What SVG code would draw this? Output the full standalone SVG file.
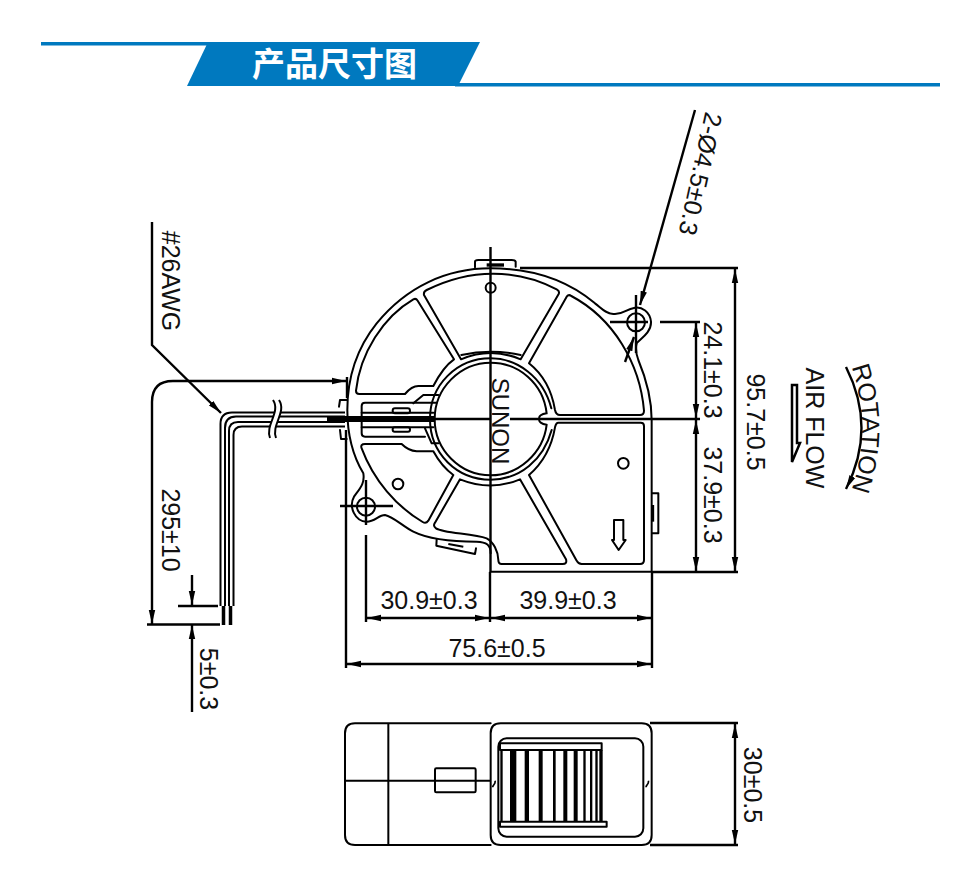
<svg xmlns="http://www.w3.org/2000/svg" width="980" height="879" viewBox="0 0 980 879">
<style>
.o{fill:none;stroke:#000;stroke-width:6;stroke-linejoin:round;stroke-linecap:round}
.d{fill:none;stroke:#000;stroke-width:2.4}
.t{font-family:"Liberation Sans",Arial,sans-serif;font-size:25px;fill:#111;text-anchor:middle}
.w{fill:none;stroke:#000;stroke-width:2}
</style>
<defs>
<marker id="a" markerUnits="userSpaceOnUse" markerWidth="16" markerHeight="8" refX="14" refY="4" orient="auto-start-reverse"><path d="M0 .8L14 4L0 7.2z" fill="#000"/></marker>
</defs>
<rect width="980" height="879" fill="#fff"/>
<g id="header">
<rect x="41" y="42" width="170" height="3.500" fill="#0079bf"/>
<rect x="455" y="83" width="485" height="3.500" fill="#0079bf"/>
<polygon points="187,86 208,42 480,42 458,86" fill="#0079bf"/>
<text x="334.500" y="76" font-family="'Noto Sans CJK SC',sans-serif" font-weight="700" font-size="33" fill="#fff" text-anchor="middle">产品尺寸图</text>
</g>
<g id="fan-front" transform="translate(330 240) scale(.33333)">
<path class="o" d="M482 995H965V540C965 480 950 420 925 360C918 340 915 325 920 310C925 300 965 280 963 245C960 215 935 200 915 203C885 208 880 225 850 222C825 220 815 205 795 190C700 110 590 85 482 85C350 85 230 140 140 250C80 325 52 410 52 510C52 590 70 650 100 700C105 730 90 745 72 770C55 800 75 845 110 845C135 845 145 825 165 825C190 830 220 860 250 875C300 900 370 905 440 905C470 906 482 915 482 940"/>
<path class="o" d="M78 452C90 340 160 230 250 178Q258 174 263 182L372 358Q340 380 310 438H265Q245 438 225 462H88Q78 462 78 452Z"/>
<path class="o" d="M282 165Q280 155 290 150C420 85 560 85 680 148Q690 153 686 162L572 358Q482 320 393 358Z"/>
<path class="o" d="M710 170Q716 162 724 168C850 235 930 370 942 512Q942 525 930 525H690Q678 525 675 510Q660 420 597 370Z"/>
<path class="o" d="M685 548H932Q942 548 942 558V960Q942 972 930 972H755Q745 972 740 962L597 705Q660 650 675 562Q678 548 685 548Z"/>
<path class="o" d="M390 718Q482 755 570 718L708 958Q712 972 698 972H515Q505 972 505 960C505 935 490 905 470 895C430 880 340 880 318 865Q308 858 315 848Z"/>
<path class="o" d="M95 625Q90 612 105 612H215Q235 632 260 634H310Q335 680 370 705L295 842Q288 852 278 846C200 800 130 720 95 625Z"/>
<path class="o" d="M664 505C640 410 560 355 482 355C380 355 300 435 300 537C300 640 380 719 482 719C570 719 640 660 665 570"/>
<path class="o" d="M650 520C640 430 565 368 482 368C390 368 314 445 314 537C314 630 390 706 482 706C565 706 640 640 650 554C635 552 625 545 628 537C625 528 635 522 650 520Z"/>
<path class="o" d="M394 345Q482 325 572 345"/>
<path class="o" d="M320 488H105Q95 488 95 498V580Q95 590 105 590H285"/>
<path class="o" d="M95 518H310M95 562H310M250 490L280 465H325M285 565L305 610H325"/>
<rect class="o" x="188" y="505" width="52" height="15" rx="7"/>
<rect class="o" x="188" y="562" width="52" height="13" rx="6"/>
<path class="o" d="M50 480H30L27 500M30 570L33 597H50"/>
<path class="o" d="M435 82V65Q435 60 445 60H545Q555 60 557 65V80"/>
<path d="M470 75H522" stroke="#000" stroke-width="10"/>
<path class="o" d="M967 760H985V880H967"/>
<path d="M968 795V845" stroke="#000" stroke-width="9"/>
<path class="o" d="M320 898L319 917L435 942L438 925"/>
<path d="M355 912L400 920" stroke="#000" stroke-width="6"/>
<circle class="o" cx="918" cy="247" r="27"/>
<circle class="o" cx="108" cy="800" r="27"/>
<circle class="o" cx="482" cy="143" r="15"/>
<circle class="o" cx="880" cy="670" r="16"/>
<circle class="o" cx="204" cy="732" r="16"/>
<path class="o" d="M852 840H880V900H887L866 930L846 900H852Z"/>
</g>
<g id="wires">
<path class="w" d="M345 412.500H232Q220.500 412.500 220.500 424V606M345 416.500H236Q225 416.500 225 428V606M345 422H238Q229 422 229 431V606M345 426.500H242Q233.500 426.500 233.500 435V606"/>
<path d="M223.500 606V625M230.500 606V625" stroke="#000" stroke-width="3.500"/>
<path d="M327 419H435" stroke="#000" stroke-width="6"/>
<path d="M276 400C284 412 268 425 273 438" fill="none" stroke="#fff" stroke-width="5"/>
<path class="w" d="M273 400C281 412 265 425 270 438M279 400C287 412 271 425 276 438"/>
</g>
<g id="dimensions">
<path class="d" stroke-width="3" d="M490.500 247V572M435 419H490M510 419H700M520 268H738M652 572H738M610 322H648M660 322H700"/>
<path class="d" d="M636 295V353M366 480V525M366 535V622M340 506H393M346 430V668M490 572V622M652 572V668M347 377V398"/>
<path class="d" marker-start="url(#a)" marker-end="url(#a)" d="M735 269V571"/>
<path class="d" marker-start="url(#a)" marker-end="url(#a)" d="M696 323V418"/>
<path class="d" marker-start="url(#a)" marker-end="url(#a)" d="M696 420V571"/>
<path class="d" marker-start="url(#a)" marker-end="url(#a)" d="M367 618H489"/>
<path class="d" marker-start="url(#a)" marker-end="url(#a)" d="M491 618H651"/>
<path class="d" marker-start="url(#a)" marker-end="url(#a)" d="M347 664H651"/>
<path class="d" marker-end="url(#a)" d="M695 110L640 305"/>
<path class="d" marker-end="url(#a)" d="M625 362L634 337"/>
<path class="d" marker-end="url(#a)" d="M152 222V345L221 413"/>
<path class="d" marker-start="url(#a)" marker-end="url(#a)" d="M346 381H173Q152 381 152 402V624"/>
<path class="d" d="M147 624.500H220M178 606H218"/>
<path class="d" marker-end="url(#a)" d="M192 575V605"/>
<path class="d" marker-end="url(#a)" d="M192 712V625"/>
<path class="d" marker-start="url(#a)" marker-end="url(#a)" d="M735 724V844"/>
<path class="d" d="M650 723H738M650 845H738"/>
</g>
<g id="labels">
<text class="t" transform="translate(492 421) rotate(90)" style="font-size:24px">SUNON</text>
<text class="t" transform="translate(747 422) rotate(90)">95.7±0.5</text>
<text class="t" transform="translate(704 370) rotate(90)">24.1±0.3</text>
<text class="t" transform="translate(704 495) rotate(90)">37.9±0.3</text>
<text class="t" transform="translate(692 172) rotate(102.500)">2-Ø4.5±0.3</text>
<text class="t" transform="translate(162 281) rotate(90)">#26AWG</text>
<text class="t" transform="translate(162 530) rotate(90)">295±10</text>
<text class="t" transform="translate(200 679) rotate(90)">5±0.3</text>
<text class="t" x="429" y="609">30.9±0.3</text>
<text class="t" x="568" y="609">39.9±0.3</text>
<text class="t" x="497" y="657">75.6±0.5</text>
<text class="t" transform="translate(744 785) rotate(90)">30±0.5</text>
<text class="t" transform="translate(806 428) rotate(90)">AIR FLOW</text>
<path id="rp" d="M849 360Q875 428 849 497" fill="none"/>
<text class="t"><textPath href="#rp" startOffset="50%">ROTATION</textPath></text>
</g>
<g id="rotation-arrows">
<path class="d" marker-end="url(#a)" d="M846 367Q877 428 846 489"/>
<polygon points="792,385 797,385 797,443 800,443 792,462" fill="#fff" stroke="#000" stroke-width="2.500"/>
</g>
<g id="fan-side" transform="translate(330 710) scale(.33333)">
<path class="o" d="M482 75V70Q482 40 512 40H935Q965 40 965 70V375Q965 405 935 405H512Q482 405 482 375V75M482 40H75Q45 40 45 70V375Q45 405 75 405H482M175 40V405M45 212H482"/>
<rect class="o" x="315" y="175" width="122" height="72" rx="4" fill="#fff"/>
<rect class="o" x="505" y="85" width="435" height="295" rx="25"/>
<rect class="o" x="510" y="100" width="305" height="20"/>
<rect class="o" x="510" y="335" width="320" height="15"/>
<g fill="#000"><rect x="511" y="120" width="7" height="215"/><rect x="540" y="120" width="19" height="215"/><rect x="584" y="120" width="13" height="215"/><rect x="626" y="120" width="12" height="215"/><rect x="669" y="120" width="8" height="215"/><rect x="700" y="120" width="12" height="215"/><rect x="731" y="120" width="12" height="215"/><rect x="760" y="120" width="7" height="215"/><rect x="780" y="120" width="7" height="215"/><rect x="796" y="120" width="7" height="215"/><rect x="808" y="120" width="10" height="215"/></g>
<path d="M495 212C498 222 488 225 488 232M955 212C958 222 948 225 948 232" fill="none" stroke="#000" stroke-width="5"/>
</g>
</svg>
